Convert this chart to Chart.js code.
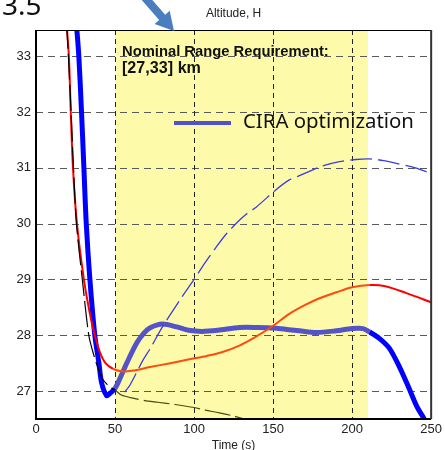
<!DOCTYPE html>
<html>
<head>
<meta charset="utf-8">
<script src="https://cdn.jsdelivr.net/npm/chart.js@4/dist/chart.umd.min.js"></script>
<style>
    body { margin: 0; background: #fff; }
</style>
</head>
<body>
<canvas id="altChart" width="445" height="450"></canvas>
<script>
//============================================= Data =============================================//
const xTicks = [0, 50, 100, 150, 200, 250];
const yTicks = [27, 28, 29, 30, 31, 32, 33];
const bandRange = [50, 210];

// CIRA optimization (thick blue)
const ciraT = [25.5, 27.1, 28.8, 30.3, 31.8, 34.1, 37.2, 39.8, 41.5, 44.6, 46.5, 50, 53.5, 57.4, 63.7, 68, 72, 80, 89, 96.6, 105, 115, 128.8, 140, 150.8, 160, 166.7, 177.4, 190, 200, 207, 211, 217, 223.5, 230, 236, 241, 245.6, 247];
const ciraH = [33.6, 33.0, 32.0, 31.0, 30.0, 29.0, 28.0, 27.5, 27.15, 26.92, 26.95, 27.05, 27.25, 27.5, 27.86, 28.03, 28.13, 28.2, 28.15, 28.09, 28.07, 28.09, 28.14, 28.14, 28.13, 28.1, 28.08, 28.05, 28.08, 28.12, 28.12, 28.06, 27.95, 27.77, 27.43, 27.05, 26.72, 26.5, 26.4];

// red
const redT = [19.3, 20.8, 22, 23.4, 25.9, 30.3, 34, 37.2, 40.4, 44, 48.6, 55, 62, 72, 85, 97, 108, 118, 129, 139.5, 150, 160, 170, 179, 190, 200, 211, 221, 234, 251];
const redH = [33.6, 33.0, 32.0, 31.0, 30.0, 29.0, 28.4, 28.0, 27.7, 27.5, 27.4, 27.35, 27.37, 27.43, 27.5, 27.57, 27.63, 27.7, 27.82, 27.98, 28.17, 28.38, 28.54, 28.66, 28.77, 28.86, 28.9, 28.88, 28.76, 28.58];

// thin black
const blackT = [19.3, 20.5, 22.2, 23.7, 25.6, 29.3, 33.4, 36, 38.8, 42, 45, 48, 50, 54, 62, 71, 77, 88, 99, 107, 116, 124, 132, 140];
const blackH = [33.6, 33.0, 32.0, 31.0, 30.0, 29.0, 28.0, 27.7, 27.45, 27.22, 27.12, 27.05, 27.02, 26.93, 26.87, 26.82, 26.8, 26.76, 26.71, 26.66, 26.61, 26.56, 26.5, 26.44];

// thin blue dashed
const thinT = [56, 59.3, 67.6, 72, 80, 91, 100, 107, 114, 120.5, 129, 133, 139.5, 151.5, 160, 166.7, 181, 192, 202.6, 211, 220, 228, 240, 250];
const thinH = [26.98, 27.1, 27.55, 27.75, 28.15, 28.63, 29.0, 29.3, 29.58, 29.82, 30.07, 30.17, 30.3, 30.6, 30.78, 30.86, 31.03, 31.11, 31.15, 31.16, 31.13, 31.08, 31.0, 30.9];

const toPoints = (xs, ys) => xs.map((x, i) => ({ x: x, y: ys[i] }));

// colour of a segment depending on whether it sits on the yellow band
const inBand = ctx => {
    const mid = (ctx.p0.parsed.x + ctx.p1.parsed.x) / 2;
    return mid >= bandRange[0] && mid <= bandRange[1];
};
const bandColor = (outside, inside) => ({
    borderColor: ctx => inBand(ctx) ? inside : outside
});

//============================================= Decorations =============================================//
function fitText(ctx, text, x, y, width, weight, family) {
    ctx.font = weight + ' 20px ' + family;
    const size = 20 * width / ctx.measureText(text).width;
    ctx.font = weight + ' ' + size.toFixed(2) + 'px ' + family;
    ctx.fillText(text, x, y);
}

const decor = {
    id: 'decor',
    beforeDraw(chart) {
        const { ctx, chartArea, scales } = chart;
        const x0 = scales.x.getPixelForValue(bandRange[0]);
        const x1 = scales.x.getPixelForValue(bandRange[1]);
        ctx.save();
        ctx.fillStyle = '#fdfbaa';
        ctx.fillRect(x0, chartArea.top, x1 - x0, chartArea.bottom - chartArea.top);
        ctx.restore();
    },
    beforeDatasetsDraw(chart) {
        const { ctx, chartArea, scales } = chart;
        const { left, right, top, bottom } = chartArea;
        ctx.save();
        ctx.lineWidth = 1;
        // horizontal grid
        ctx.strokeStyle = '#5a5a5a';
        ctx.setLineDash([7, 5]);
        yTicks.forEach(v => {
            const y = Math.round(scales.y.getPixelForValue(v)) + 0.5;
            ctx.beginPath();
            ctx.moveTo(left, y);
            ctx.lineTo(right, y);
            ctx.stroke();
        });
        // vertical grid
        ctx.strokeStyle = '#222';
        ctx.setLineDash([5, 4]);
        xTicks.slice(1, -1).forEach(v => {
            const x = Math.round(scales.x.getPixelForValue(v)) + 0.5;
            ctx.beginPath();
            ctx.moveTo(x, top);
            ctx.lineTo(x, bottom);
            ctx.stroke();
        });
        ctx.restore();
    },
    afterDraw(chart) {
        const { ctx, chartArea } = chart;
        const { left, right, top, bottom } = chartArea;
        ctx.save();

        // frame
        ctx.strokeStyle = '#000';
        ctx.lineWidth = 1;
        ctx.beginPath();
        ctx.moveTo(left, top + 0.5);
        ctx.lineTo(right, top + 0.5);
        ctx.stroke();
        ctx.lineWidth = 2;
        ctx.beginPath();
        ctx.moveTo(left, top);
        ctx.lineTo(left, bottom);
        ctx.lineTo(right, bottom);
        ctx.stroke();
        ctx.strokeStyle = '#333';
        ctx.beginPath();
        ctx.moveTo(right, top);
        ctx.lineTo(right, bottom);
        ctx.stroke();

        // title
        ctx.fillStyle = '#222';
        ctx.font = '12px "Liberation Sans"';
        ctx.textAlign = 'center';
        ctx.textBaseline = 'middle';
        ctx.fillText('Altitude, H', (left + right) / 2, 14);

        // "3.5"
        ctx.textAlign = 'left';
        ctx.textBaseline = 'alphabetic';
        ctx.fillStyle = '#111';
        ctx.font = '28px "Noto Sans"';
        ctx.fillText('3.5', 2, 15);

        // arrow
        const tip = [174, 31], start = [140, -8];
        const dx = tip[0] - start[0], dy = tip[1] - start[1];
        const len = Math.hypot(dx, dy);
        const ux = dx / len, uy = dy / len, px = -uy, py = ux;
        const bx = tip[0] - 18 * ux, by = tip[1] - 18 * uy;
        ctx.fillStyle = '#4a7ebf';
        ctx.beginPath();
        ctx.moveTo(start[0] + 4 * px, start[1] + 4 * py);
        ctx.lineTo(bx + 4 * px, by + 4 * py);
        ctx.lineTo(bx + 10 * px, by + 10 * py);
        ctx.lineTo(tip[0], tip[1]);
        ctx.lineTo(bx - 10 * px, by - 10 * py);
        ctx.lineTo(bx - 4 * px, by - 4 * py);
        ctx.lineTo(start[0] - 4 * px, start[1] - 4 * py);
        ctx.closePath();
        ctx.fill();

        // requirement note
        ctx.fillStyle = '#111';
        fitText(ctx, 'Nominal Range Requirement:', 122, 56, 207, 'bold', '"Liberation Sans"');
        fitText(ctx, '[27,33] km', 122, 73, 79, 'bold', '"Liberation Sans"');

        // legend
        ctx.strokeStyle = '#5050d0';
        ctx.lineWidth = 4;
        ctx.beginPath();
        ctx.moveTo(174, 123);
        ctx.lineTo(231, 123);
        ctx.stroke();
        ctx.fillStyle = '#111';
        fitText(ctx, 'CIRA optimization', 243, 128, 171, 'normal', '"Noto Sans"');

        ctx.restore();
    }
};

//============================================= Chart =============================================//
new Chart(document.getElementById('altChart'), {
    type: 'line',
    data: {
        datasets: [
            {
                label: 'thin',
                data: toPoints(thinT, thinH),
                borderColor: '#3c3ce0',
                borderWidth: 1.3,
                borderDash: [22, 6],
                tension: 0.3
            },
            {
                label: 'black',
                data: toPoints(blackT, blackH),
                borderColor: '#000',
                borderWidth: 1.2,
                borderDash: [26, 5],
                segment: bandColor('#000', '#4a4a10'),
                tension: 0.3
            },
            {
                label: 'red',
                data: toPoints(redT, redH),
                borderColor: '#ff0000',
                borderWidth: 2,
                segment: bandColor('#ff0000', '#ff4a10'),
                tension: 0.3
            },
            {
                label: 'CIRA optimization',
                data: toPoints(ciraT, ciraH),
                borderColor: '#0000ff',
                borderWidth: 5,
                segment: bandColor('#0000ff', '#5454c8'),
                tension: 0.3
            }
        ]
    },
    options: {
        responsive: false,
        animation: false,
        layout: { padding: { left: 0, right: 12, top: 30, bottom: 0 } },
        elements: { point: { radius: 0 } },
        plugins: {
            legend: { display: false },
            tooltip: { enabled: false }
        },
        scales: {
            x: {
                type: 'linear',
                min: 0,
                max: 250,
                afterBuildTicks: s => { s.ticks = xTicks.map(v => ({ value: v })); },
                afterFit: s => { s.height = 31; },
                border: { display: false },
                grid: { display: false, drawTicks: false },
                ticks: {
                    padding: 3,
                    color: '#222',
                    font: { family: 'Liberation Sans', size: 13 }
                },
                title: {
                    display: true,
                    text: 'Time (s)',
                    color: '#222',
                    padding: { top: 0, bottom: -3 },
                    font: { family: 'Liberation Sans', size: 12 }
                }
            },
            y: {
                min: 26.5,
                max: 33.47,
                afterBuildTicks: s => { s.ticks = yTicks.map(v => ({ value: v })); },
                afterFit: s => { s.width = 36; },
                border: { display: false },
                grid: { display: false, drawTicks: false },
                ticks: {
                    padding: 5,
                    color: '#222',
                    font: { family: 'Liberation Sans', size: 13 }
                }
            }
        }
    },
    plugins: [decor]
});
</script>
</body>
</html>
